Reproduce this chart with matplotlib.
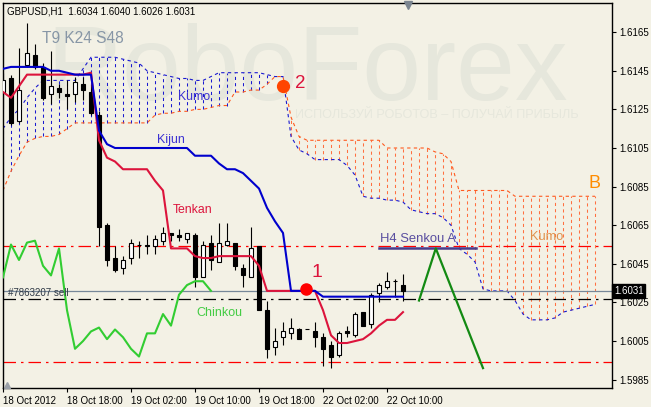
import numpy as np
import matplotlib.pyplot as plt
from matplotlib.transforms import blended_transform_factory

plt.rcParams['font.family'] = ['Liberation Sans', 'DejaVu Sans']

# GBPUSD H1 candles, bar 0 = 18 Oct 10:00
opens = [1.6134, 1.6141, 1.6119, 1.6148, 1.6153, 1.6147, 1.6133, 1.6136, 1.6133, 1.6133,
         1.6138, 1.6134, 1.6122, 1.6065, 1.6048, 1.6043, 1.6048, 1.6055, 1.6054, 1.6054,
         1.6057, 1.6061, 1.6060, 1.6058, 1.6060, 1.6038, 1.6056, 1.6046, 1.6055, 1.6056,
         1.6043, 1.6038, 1.6054, 1.6021, 1.6002, 1.6007, 1.6009, 1.6011, 1.6011, 1.6010,
         1.6007, 1.6003, 1.5998, 1.6010, 1.6008, 1.6020, 1.6014, 1.6030, 1.6033, 1.6036,
         1.6034]
highs = [1.6144, 1.6143, 1.6157, 1.6170, 1.6159, 1.6149, 1.6155, 1.6138, 1.6140, 1.6142,
         1.6142, 1.6138, 1.6124, 1.6066, 1.6054, 1.6049, 1.6058, 1.6057, 1.6060, 1.6060,
         1.6064, 1.6061, 1.6063, 1.6061, 1.6061, 1.6057, 1.6060, 1.6066, 1.6066, 1.6056,
         1.6045, 1.6064, 1.6054, 1.6026, 1.6012, 1.6015, 1.6017, 1.6012, 1.6011, 1.6015,
         1.6009, 1.6005, 1.6010, 1.6013, 1.6020, 1.6020, 1.6030, 1.6035, 1.6041, 1.6037,
         1.6040]
lows = [1.6125, 1.6117, 1.6118, 1.6147, 1.6146, 1.6130, 1.6128, 1.6131, 1.6125, 1.6129,
        1.6130, 1.6122, 1.6054, 1.6044, 1.6041, 1.6040, 1.6045, 1.6048, 1.6050, 1.6050,
        1.6055, 1.6057, 1.6057, 1.6056, 1.6033, 1.6038, 1.6042, 1.6046, 1.6054, 1.6042,
        1.6033, 1.6038, 1.6021, 1.5996, 1.5998, 1.6003, 1.6006, 1.6006, 1.6011, 1.6002,
        1.5992, 1.5991, 1.5997, 1.6007, 1.6007, 1.6013, 1.6012, 1.6025, 1.6032, 1.6028,
        1.6026]
closes = [1.6140, 1.6118, 1.6135, 1.6154, 1.6147, 1.6131, 1.6137, 1.6134, 1.6132, 1.6139,
          1.6135, 1.6123, 1.6064, 1.6047, 1.6042, 1.6047, 1.6056, 1.6055, 1.6055, 1.6058,
          1.6061, 1.6060, 1.6059, 1.6061, 1.6038, 1.6055, 1.6047, 1.6056, 1.6057, 1.6044,
          1.6039, 1.6053, 1.6021, 1.6001, 1.6005, 1.6010, 1.6012, 1.6006, 1.6011, 1.6007,
          1.6001, 1.5997, 1.6009, 1.6009, 1.6019, 1.6013, 1.6029, 1.6034, 1.6036, 1.6036,
          1.6031]

tenkan = [1.6134, 1.6131, 1.6137, 1.6143, 1.6143, 1.6143, 1.6143, 1.6143, 1.6143, 1.6143,
          1.6143, 1.6144, 1.6109, 1.6100, 1.6098, 1.6094, 1.6094, 1.6094, 1.6094, 1.6088,
          1.6083, 1.6053, 1.6053, 1.6053, 1.6049, 1.6048, 1.6048, 1.6049, 1.6049, 1.6049,
          1.6049, 1.6049, 1.6044, 1.6031, 1.6031, 1.6031, 1.6031, 1.6031, 1.6031, 1.6031,
          1.6021, 1.6008, 1.6004, 1.6004, 1.6005, 1.6006, 1.6009, 1.6013, 1.6016, 1.6016,
          1.6020]
kijun = [1.6146, 1.6147, 1.6147, 1.6147, 1.6147, 1.6147, 1.6145, 1.6145, 1.6144, 1.6143,
         1.6143, 1.6143, 1.6114, 1.6107, 1.6105, 1.6105, 1.6105, 1.6105, 1.6105, 1.6105,
         1.6105, 1.6105, 1.6105, 1.6105, 1.6101, 1.6101, 1.6101, 1.6097, 1.6094, 1.6094,
         1.6092, 1.6088, 1.6084, 1.6074, 1.6067, 1.6061, 1.6031, 1.6031, 1.6031, 1.6031,
         1.6028, 1.6028, 1.6028, 1.6028, 1.6028, 1.6028, 1.6028, 1.6028, 1.6028, 1.6028,
         1.6028]
senkou_a = [1.6115, 1.6121, 1.6125, 1.6131, 1.6136, 1.6140, 1.6140, 1.6140, 1.6140, 1.6140,
            1.6146, 1.6152, 1.6152, 1.6152, 1.6152, 1.6151, 1.6150, 1.6149, 1.6145, 1.6144,
            1.6143, 1.6142, 1.6141, 1.6141, 1.6140, 1.6140, 1.6142, 1.6144, 1.6144, 1.6144,
            1.6144, 1.6144, 1.6144, 1.6143, 1.6142, 1.6142, 1.6111, 1.6104, 1.6102, 1.6099,
            1.6099, 1.6099, 1.6099, 1.6096, 1.6091, 1.6080, 1.6079, 1.6079, 1.6078, 1.6078,
            1.6077, 1.6073, 1.6072, 1.6071, 1.6071, 1.6069, 1.6065, 1.6053, 1.6050, 1.6046,
            1.6032, 1.6031, 1.6031, 1.6031, 1.6026, 1.6019, 1.6016, 1.6016, 1.6016, 1.6017,
            1.6020, 1.6021, 1.6022, 1.6023, 1.6024]
senkou_b = [1.6083, 1.6093, 1.6101, 1.6108, 1.6110, 1.6111, 1.6111, 1.6112, 1.6115, 1.6118,
            1.6118, 1.6118, 1.6118, 1.6118, 1.6118, 1.6118, 1.6118, 1.6118, 1.6118, 1.6122,
            1.6123, 1.6123, 1.6124, 1.6124, 1.6125, 1.6125, 1.6126, 1.6127, 1.6127, 1.6134,
            1.6134, 1.6135, 1.6135, 1.6138, 1.6142, 1.6142, 1.6121, 1.6111, 1.6109, 1.6109,
            1.6109, 1.6109, 1.6109, 1.6109, 1.6109, 1.6109, 1.6109, 1.6109, 1.6105, 1.6105,
            1.6105, 1.6105, 1.6105, 1.6105, 1.6103, 1.6102, 1.6098, 1.6083, 1.6083, 1.6083,
            1.6083, 1.6083, 1.6083, 1.6083, 1.6080, 1.6080, 1.6080, 1.6080, 1.6080, 1.6080,
            1.6080, 1.6080, 1.6080, 1.6080, 1.6080]
chinkou_shift = 24

x_ticks = [0, 8, 16, 24, 32, 40, 48]
x_labels = ['18 Oct 2012', '18 Oct 18:00', '19 Oct 02:00', '19 Oct 10:00',
            '19 Oct 18:00', '22 Oct 02:00', '22 Oct 10:00']
y_ticks = [1.5985, 1.6005, 1.6025, 1.6045, 1.6065, 1.6085, 1.6105, 1.6125, 1.6145, 1.6165]

red_levels = [1.6054, 1.5994]
order_level = 1.6027
bid = 1.6031
h4_x = [47, 59.1]
h4_y = 1.6053
zz_x = [52, 54.1, 60]
zz_y = [1.6026, 1.6053, 1.5991]
sig_x = [37.9, 35]
sig_y = [1.6032, 1.6137]

BG = '#f3f1e5'

fig = plt.figure(figsize=(6.51, 4.07), dpi=100)
fig.patch.set_facecolor(BG)
ax = fig.add_axes([3/651, 19/407, 609/651, 385/407])
ax.set_facecolor(BG)
ax.set_xlim(0, 76.125)
ax.set_ylim(1.59807, 1.61801)

# watermark
ax.text(0.072, 0.748, 'RoboForex', transform=ax.transAxes, fontsize=76,
        color='#e6e7dc', va='baseline', ha='left', zorder=0)
ax.text(0.479, 0.701, 'ИСПОЛЬЗУЙ РОБОТОВ – ПОЛУЧАЙ ПРИБЫЛЬ', transform=ax.transAxes,
        fontsize=9.1, color='#e6e7dc', va='baseline', ha='left', zorder=0)

# kumo hatch
sa = np.array(senkou_a)
sb = np.array(senkou_b)
xs = np.arange(len(sa))
up = sa >= sb
ax.vlines(xs[up], sb[up], sa[up], colors='#1a1ad0', linestyles=(0, (3, 3)), lw=0.75, zorder=1)
ax.vlines(xs[~up], sa[~up], sb[~up], colors='#ff7040', linestyles=(0, (3, 3)), lw=0.75, zorder=1)
ax.plot(xs, sa, color='#1a1ad0', ls=(0, (3, 3)), lw=0.8, zorder=1.5)
ax.plot(xs, sb, color='#ff5a1f', ls=(0, (3, 3)), lw=0.8, zorder=1.5)

# levels
for lv in red_levels:
    ax.axhline(lv, color='#ff0000', lw=0.9, ls=(0, (10, 4, 2, 4)), zorder=2)
ax.axhline(order_level, color='black', lw=0.9, ls=(0, (10, 4, 2, 4)), zorder=2)
ax.axhline(bid, color='#778899', lw=0.9, zorder=2)

# candles
o = np.array(opens)
h = np.array(highs)
l = np.array(lows)
c = np.array(closes)
xc = np.arange(len(o))
ax.vlines(xc, l, h, color='black', lw=0.8, zorder=3)
bull = c >= o
ax.bar(xc[bull], c[bull] - o[bull], bottom=o[bull], width=0.62, color='white',
       edgecolor='black', lw=0.8, zorder=3.2)
ax.bar(xc[~bull], o[~bull] - c[~bull], bottom=c[~bull], width=0.62, color='black',
       edgecolor='black', lw=0.8, zorder=3.2)

# ichimoku lines
ax.plot(xc, tenkan, color='#dc143c', lw=1.5, zorder=4)
ax.plot(xc, kijun, color='#0000cd', lw=1.5, zorder=4)
ax.plot(xc[:len(c) - chinkou_shift], c[chinkou_shift:], color='#32cd32', lw=1.5, zorder=4)

# drawings
ax.plot(h4_x, [h4_y, h4_y], color='#483d8b', lw=1.8, zorder=4.5)
ax.plot(zz_x, zz_y, color='#138a13', lw=1.6, zorder=4.5)
ax.plot(sig_x[0], sig_y[0], 'o', color='#ff0000', ms=8, zorder=5)
ax.plot(sig_x[1], sig_y[1], 'o', color='#ff4500', ms=8.5, zorder=5)

def lab(x, y, s, col, fs):
    ax.text(x, y, s, transform=ax.transAxes, color=col, fontsize=fs, va='center',
            ha='left', zorder=6)

lab(0.0066, 0.978, 'GBPUSD,H1  1.6034 1.6040 1.6026 1.6031', 'black', 7)
lab(0.064, 0.909, 'T9 K24 S48', '#8796a6', 11.2)
lab(0.287, 0.756, 'Kumo', '#3c32d2', 8.8)
lab(0.2529, 0.644, 'Kijun', '#3c32d2', 9)
lab(0.279, 0.462, 'Tenkan', '#dc143c', 8.8)
lab(0.317, 0.195, 'Chinkou', '#44cc44', 9)
lab(0.619, 0.387, 'H4 Senkou A', '#5a4fa0', 9.4)
lab(0.865, 0.392, 'Kumo', '#e0904a', 9.2)
lab(0.9606, 0.530, 'B', '#ff8c00', 13)
lab(0.506, 0.301, '1', '#dc143c', 14)
lab(0.4795, 0.792, '2', '#dc143c', 13.5)
lab(0.0082, 0.247, '#7863207 sell', '#303a46', 7)

# chart shift markers
ax.plot(0.665, 0.995, 'v', color='#7a8590', ms=6, transform=ax.transAxes,
        clip_on=False, zorder=6)
ax.plot(0.006, 0.008, '^', color='#9aa0a8', ms=5, transform=ax.transAxes,
        clip_on=False, zorder=6)

# axes
for sp in ax.spines.values():
    sp.set_color('black')
    sp.set_linewidth(1)
ax.yaxis.tick_right()
ax.set_yticks(y_ticks)
ax.set_yticklabels(['%.4f' % v for v in y_ticks], fontsize=7)
ax.set_xticks(x_ticks)
ax.set_xticklabels(x_labels, fontsize=7, ha='left')
ax.tick_params(axis='y', length=3, width=0.8, pad=2)
ax.tick_params(axis='x', length=3, width=0.8, pad=3)

trans = blended_transform_factory(ax.transAxes, ax.transData)
ax.text(1.003, bid, '1.6031', transform=trans, color='white', fontsize=7,
        va='center', ha='left', zorder=7,
        bbox=dict(boxstyle='square,pad=0.2', fc='black', ec='black'))

fig.savefig('out.png', dpi=100, facecolor=BG)
